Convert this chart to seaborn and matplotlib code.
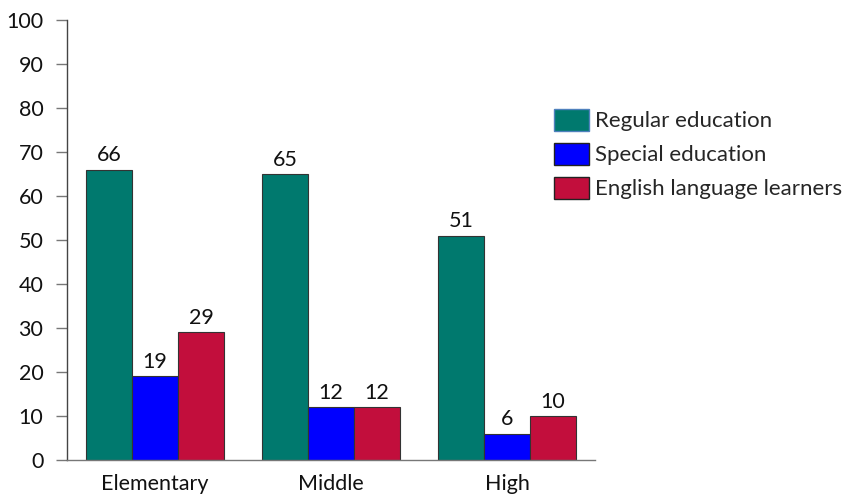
import matplotlib
matplotlib.use("Agg")
import matplotlib.pyplot as plt
import seaborn as sns
import pandas as pd
from matplotlib.patches import Patch

categories = ["Elementary", "Middle", "High"]
series = ["Regular education", "Special education", "English language learners"]
regular = [66, 65, 51]
special = [19, 12, 6]
ell = [29, 12, 10]
colors = ["#00796E", "#0000FF", "#C20E3C"]

rows = []
for name, vals in zip(series, [regular, special, ell]):
    for c, v in zip(categories, vals):
        rows.append({"level": c, "group": name, "value": v})
df = pd.DataFrame(rows)

sns.set_theme(style="white")
plt.rcParams['font.family'] = ['Lato', 'DejaVu Sans']

fig = plt.figure(figsize=(8.47, 4.95), dpi=100)
ax = fig.add_axes([67/847, 1-460/495, (595-67)/847, (460-20)/495])

sns.barplot(data=df, x="level", y="value", hue="group", order=categories,
            hue_order=series, palette=colors, width=0.784, saturation=1,
            edgecolor="#333333", linewidth=0.8, ax=ax, legend=False)

for cont in ax.containers:
    ax.bar_label(cont, padding=3, fontsize=15.5, color="#111111")

ax.set_ylim(0, 100)
ax.set_xlim(-0.5, 2.5)
ax.set_yticks(range(0, 101, 10))
ax.set_xlabel("")
ax.set_ylabel("")
for s in ["top", "right"]:
    ax.spines[s].set_visible(False)
ax.spines["left"].set_color("#444444")
ax.spines["bottom"].set_color("#777777")
ax.spines["left"].set_linewidth(1.0)
ax.spines["bottom"].set_linewidth(1.0)
ax.tick_params(axis="y", direction="out", length=8, width=1, color="#777777",
               pad=9, labelsize=15.5, labelcolor="#111111", left=True)
ax.tick_params(axis="x", length=0, pad=10, labelsize=15.5, labelcolor="#111111")

edges = ["#4F81BD", "#222222", "#222222"]
handles = [Patch(facecolor=c, edgecolor=e, linewidth=1.0) for c, e in zip(colors, edges)]
fig.legend(handles, series, loc="upper left", bbox_to_anchor=(545/847, 1-100/495),
           frameon=False, fontsize=16, handlelength=1.58, handleheight=1.13,
           handletextpad=0.27, labelspacing=0.52, borderaxespad=0)

fig.savefig("out.png", dpi=100)
